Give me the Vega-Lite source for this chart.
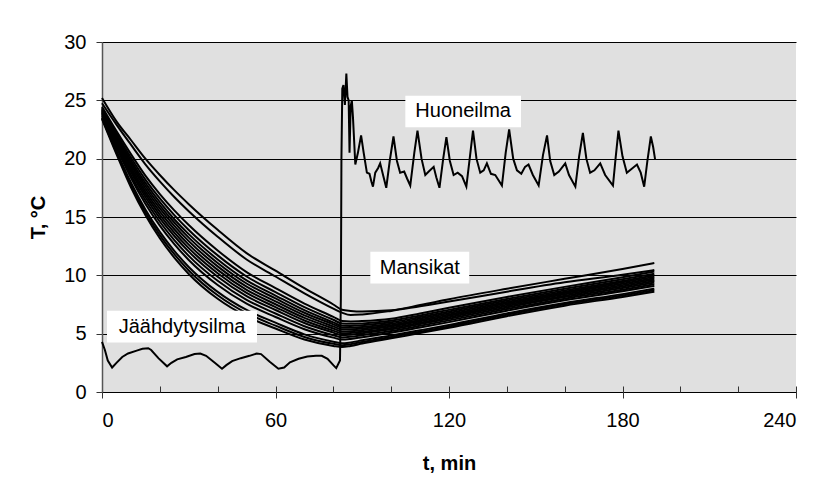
{
"$schema": "https://vega.github.io/schema/vega-lite/v6.json",
"width": 694, "height": 350,
"autosize": "none",
"padding": {"left": 102, "top": 42, "right": 23, "bottom": 96},
"background": "white",
"config": {"font": "Liberation Sans", "view": {"fill": "#e0e0e0", "stroke": null}},
"datasets": {
"straw": [
{"c":1,"t":0,"T":23.4},{"c":1,"t":5,"T":20.4},{"c":1,"t":10,"T":17.55},{"c":1,"t":15,"T":15.17},{"c":1,"t":20,"T":13.18},{"c":1,"t":25,"T":11.52},{"c":1,"t":30,"T":10.12},{"c":1,"t":40,"T":7.99},{"c":1,"t":50,"T":6.49},{"c":1,"t":60,"T":5.44},{"c":1,"t":70,"T":4.5},{"c":1,"t":80,"T":3.95},{"c":1,"t":83,"T":3.85},{"c":1,"t":86,"T":3.95},{"c":1,"t":90,"T":4.15},{"c":1,"t":100,"T":4.6},{"c":1,"t":110,"T":5.05},{"c":1,"t":120,"T":5.5},{"c":1,"t":140,"T":6.5},{"c":1,"t":160,"T":7.4},{"c":1,"t":180,"T":8.15},{"c":1,"t":191,"T":8.6},
{"c":2,"t":0,"T":23.48},{"c":2,"t":5,"T":20.54},{"c":2,"t":10,"T":17.75},{"c":2,"t":15,"T":15.41},{"c":2,"t":20,"T":13.45},{"c":2,"t":25,"T":11.81},{"c":2,"t":30,"T":10.42},{"c":2,"t":40,"T":8.29},{"c":2,"t":50,"T":6.76},{"c":2,"t":60,"T":5.69},{"c":2,"t":70,"T":4.72},{"c":2,"t":80,"T":4.13},{"c":2,"t":83,"T":4.01},{"c":2,"t":86,"T":4.1},{"c":2,"t":90,"T":4.29},{"c":2,"t":100,"T":4.72},{"c":2,"t":110,"T":5.17},{"c":2,"t":120,"T":5.62},{"c":2,"t":140,"T":6.62},{"c":2,"t":160,"T":7.52},{"c":2,"t":180,"T":8.27},{"c":2,"t":191,"T":8.72},
{"c":3,"t":0,"T":23.55},{"c":3,"t":5,"T":20.68},{"c":3,"t":10,"T":17.96},{"c":3,"t":15,"T":15.65},{"c":3,"t":20,"T":13.72},{"c":3,"t":25,"T":12.1},{"c":3,"t":30,"T":10.72},{"c":3,"t":40,"T":8.58},{"c":3,"t":50,"T":7.03},{"c":3,"t":60,"T":5.94},{"c":3,"t":70,"T":4.94},{"c":3,"t":80,"T":4.31},{"c":3,"t":83,"T":4.17},{"c":3,"t":86,"T":4.25},{"c":3,"t":90,"T":4.43},{"c":3,"t":100,"T":4.84},{"c":3,"t":110,"T":5.29},{"c":3,"t":120,"T":5.75},{"c":3,"t":140,"T":6.74},{"c":3,"t":160,"T":7.63},{"c":3,"t":180,"T":8.39},{"c":3,"t":191,"T":8.85},
{"c":4,"t":0,"T":23.7},{"c":4,"t":5,"T":20.96},{"c":4,"t":10,"T":18.36},{"c":4,"t":15,"T":16.14},{"c":4,"t":20,"T":14.26},{"c":4,"t":25,"T":12.68},{"c":4,"t":30,"T":11.32},{"c":4,"t":40,"T":9.17},{"c":4,"t":50,"T":7.57},{"c":4,"t":60,"T":6.43},{"c":4,"t":70,"T":5.38},{"c":4,"t":80,"T":4.66},{"c":4,"t":83,"T":4.49},{"c":4,"t":86,"T":4.55},{"c":4,"t":90,"T":4.7},{"c":4,"t":100,"T":5.08},{"c":4,"t":110,"T":5.53},{"c":4,"t":120,"T":5.99},{"c":4,"t":140,"T":6.97},{"c":4,"t":160,"T":7.86},{"c":4,"t":180,"T":8.63},{"c":4,"t":191,"T":9.09},
{"c":5,"t":0,"T":23.79},{"c":5,"t":5,"T":21.13},{"c":5,"t":10,"T":18.6},{"c":5,"t":15,"T":16.43},{"c":5,"t":20,"T":14.59},{"c":5,"t":25,"T":13.02},{"c":5,"t":30,"T":11.67},{"c":5,"t":40,"T":9.53},{"c":5,"t":50,"T":7.9},{"c":5,"t":60,"T":6.73},{"c":5,"t":70,"T":5.64},{"c":5,"t":80,"T":4.87},{"c":5,"t":83,"T":4.68},{"c":5,"t":86,"T":4.73},{"c":5,"t":90,"T":4.87},{"c":5,"t":100,"T":5.22},{"c":5,"t":110,"T":5.67},{"c":5,"t":120,"T":6.14},{"c":5,"t":140,"T":7.11},{"c":5,"t":160,"T":8.0},{"c":5,"t":180,"T":8.77},{"c":5,"t":191,"T":9.24},
{"c":6,"t":0,"T":23.88},{"c":6,"t":5,"T":21.3},{"c":6,"t":10,"T":18.85},{"c":6,"t":15,"T":16.72},{"c":6,"t":20,"T":14.91},{"c":6,"t":25,"T":13.37},{"c":6,"t":30,"T":12.03},{"c":6,"t":40,"T":9.88},{"c":6,"t":50,"T":8.22},{"c":6,"t":60,"T":7.03},{"c":6,"t":70,"T":5.91},{"c":6,"t":80,"T":5.09},{"c":6,"t":83,"T":4.87},{"c":6,"t":86,"T":4.91},{"c":6,"t":90,"T":5.03},{"c":6,"t":100,"T":5.37},{"c":6,"t":110,"T":5.82},{"c":6,"t":120,"T":6.28},{"c":6,"t":140,"T":7.25},{"c":6,"t":160,"T":8.14},{"c":6,"t":180,"T":8.92},{"c":6,"t":191,"T":9.38},
{"c":7,"t":0,"T":23.96},{"c":7,"t":5,"T":21.44},{"c":7,"t":10,"T":19.05},{"c":7,"t":15,"T":16.96},{"c":7,"t":20,"T":15.19},{"c":7,"t":25,"T":13.66},{"c":7,"t":30,"T":12.33},{"c":7,"t":40,"T":10.18},{"c":7,"t":50,"T":8.49},{"c":7,"t":60,"T":7.28},{"c":7,"t":70,"T":6.13},{"c":7,"t":80,"T":5.26},{"c":7,"t":83,"T":5.03},{"c":7,"t":86,"T":5.06},{"c":7,"t":90,"T":5.17},{"c":7,"t":100,"T":5.49},{"c":7,"t":110,"T":5.94},{"c":7,"t":120,"T":6.41},{"c":7,"t":140,"T":7.37},{"c":7,"t":160,"T":8.25},{"c":7,"t":180,"T":9.04},{"c":7,"t":191,"T":9.51},
{"c":8,"t":0,"T":24.03},{"c":8,"t":5,"T":21.58},{"c":8,"t":10,"T":19.25},{"c":8,"t":15,"T":17.2},{"c":8,"t":20,"T":15.46},{"c":8,"t":25,"T":13.95},{"c":8,"t":30,"T":12.63},{"c":8,"t":40,"T":10.47},{"c":8,"t":50,"T":8.76},{"c":8,"t":60,"T":7.52},{"c":8,"t":70,"T":6.35},{"c":8,"t":80,"T":5.44},{"c":8,"t":83,"T":5.19},{"c":8,"t":86,"T":5.21},{"c":8,"t":90,"T":5.31},{"c":8,"t":100,"T":5.61},{"c":8,"t":110,"T":6.06},{"c":8,"t":120,"T":6.53},{"c":8,"t":140,"T":7.49},{"c":8,"t":160,"T":8.37},{"c":8,"t":180,"T":9.16},{"c":8,"t":191,"T":9.63},
{"c":9,"t":0,"T":24.11},{"c":9,"t":5,"T":21.72},{"c":9,"t":10,"T":19.45},{"c":9,"t":15,"T":17.44},{"c":9,"t":20,"T":15.73},{"c":9,"t":25,"T":14.24},{"c":9,"t":30,"T":12.93},{"c":9,"t":40,"T":10.77},{"c":9,"t":50,"T":9.03},{"c":9,"t":60,"T":7.77},{"c":9,"t":70,"T":6.57},{"c":9,"t":80,"T":5.62},{"c":9,"t":83,"T":5.35},{"c":9,"t":86,"T":5.36},{"c":9,"t":90,"T":5.44},{"c":9,"t":100,"T":5.73},{"c":9,"t":110,"T":6.18},{"c":9,"t":120,"T":6.65},{"c":9,"t":140,"T":7.6},{"c":9,"t":160,"T":8.48},{"c":9,"t":180,"T":9.28},{"c":9,"t":191,"T":9.75},
{"c":10,"t":0,"T":24.18},{"c":10,"t":5,"T":21.86},{"c":10,"t":10,"T":19.66},{"c":10,"t":15,"T":17.68},{"c":10,"t":20,"T":16.0},{"c":10,"t":25,"T":14.53},{"c":10,"t":30,"T":13.23},{"c":10,"t":40,"T":11.06},{"c":10,"t":50,"T":9.3},{"c":10,"t":60,"T":8.02},{"c":10,"t":70,"T":6.79},{"c":10,"t":80,"T":5.8},{"c":10,"t":83,"T":5.51},{"c":10,"t":86,"T":5.51},{"c":10,"t":90,"T":5.58},{"c":10,"t":100,"T":5.85},{"c":10,"t":110,"T":6.3},{"c":10,"t":120,"T":6.77},{"c":10,"t":140,"T":7.72},{"c":10,"t":160,"T":8.6},{"c":10,"t":180,"T":9.4},{"c":10,"t":191,"T":9.87},
{"c":11,"t":0,"T":24.26},{"c":11,"t":5,"T":22.0},{"c":11,"t":10,"T":19.86},{"c":11,"t":15,"T":17.92},{"c":11,"t":20,"T":16.27},{"c":11,"t":25,"T":14.81},{"c":11,"t":30,"T":13.53},{"c":11,"t":40,"T":11.36},{"c":11,"t":50,"T":9.57},{"c":11,"t":60,"T":8.27},{"c":11,"t":70,"T":7.01},{"c":11,"t":80,"T":5.97},{"c":11,"t":83,"T":5.67},{"c":11,"t":86,"T":5.66},{"c":11,"t":90,"T":5.72},{"c":11,"t":100,"T":5.97},{"c":11,"t":110,"T":6.42},{"c":11,"t":120,"T":6.9},{"c":11,"t":140,"T":7.84},{"c":11,"t":160,"T":8.71},{"c":11,"t":180,"T":9.52},{"c":11,"t":191,"T":10.0},
{"c":12,"t":0,"T":24.35},{"c":12,"t":5,"T":22.16},{"c":12,"t":10,"T":20.1},{"c":12,"t":15,"T":18.21},{"c":12,"t":20,"T":16.59},{"c":12,"t":25,"T":15.16},{"c":12,"t":30,"T":13.89},{"c":12,"t":40,"T":11.71},{"c":12,"t":50,"T":9.9},{"c":12,"t":60,"T":8.56},{"c":12,"t":70,"T":7.27},{"c":12,"t":80,"T":6.19},{"c":12,"t":83,"T":5.87},{"c":12,"t":86,"T":5.84},{"c":12,"t":90,"T":5.88},{"c":12,"t":100,"T":6.11},{"c":12,"t":110,"T":6.56},{"c":12,"t":120,"T":7.04},{"c":12,"t":140,"T":7.98},{"c":12,"t":160,"T":8.85},{"c":12,"t":180,"T":9.66},{"c":12,"t":191,"T":10.14},
{"c":13,"t":0,"T":24.45},{"c":13,"t":5,"T":22.36},{"c":13,"t":10,"T":20.39},{"c":13,"t":15,"T":18.55},{"c":13,"t":20,"T":16.97},{"c":13,"t":25,"T":15.57},{"c":13,"t":30,"T":14.31},{"c":13,"t":40,"T":12.13},{"c":13,"t":50,"T":10.28},{"c":13,"t":60,"T":8.91},{"c":13,"t":70,"T":7.58},{"c":13,"t":80,"T":6.44},{"c":13,"t":83,"T":6.09},{"c":13,"t":86,"T":6.05},{"c":13,"t":90,"T":6.08},{"c":13,"t":100,"T":6.28},{"c":13,"t":110,"T":6.73},{"c":13,"t":120,"T":7.22},{"c":13,"t":140,"T":8.15},{"c":13,"t":160,"T":9.01},{"c":13,"t":180,"T":9.83},{"c":13,"t":191,"T":10.32},
{"c":14,"t":0,"T":24.75},{"c":14,"t":5,"T":22.92},{"c":14,"t":10,"T":21.2},{"c":14,"t":15,"T":19.52},{"c":14,"t":20,"T":18.06},{"c":14,"t":25,"T":16.72},{"c":14,"t":30,"T":15.5},{"c":14,"t":40,"T":13.31},{"c":14,"t":50,"T":11.36},{"c":14,"t":60,"T":9.9},{"c":14,"t":70,"T":8.46},{"c":14,"t":80,"T":7.15},{"c":14,"t":83,"T":6.8},{"c":14,"t":86,"T":6.6},{"c":14,"t":90,"T":6.65},{"c":14,"t":100,"T":6.95},{"c":14,"t":110,"T":7.35},{"c":14,"t":120,"T":7.75},{"c":14,"t":140,"T":8.6},{"c":14,"t":160,"T":9.4},{"c":14,"t":180,"T":10.05},{"c":14,"t":191,"T":10.45},
{"c":15,"t":0,"T":25.2},{"c":15,"t":5,"T":23.2},{"c":15,"t":10,"T":21.6},{"c":15,"t":15,"T":20.0},{"c":15,"t":20,"T":18.6},{"c":15,"t":25,"T":17.3},{"c":15,"t":30,"T":16.1},{"c":15,"t":40,"T":13.9},{"c":15,"t":50,"T":11.9},{"c":15,"t":60,"T":10.4},{"c":15,"t":70,"T":8.9},{"c":15,"t":80,"T":7.5},{"c":15,"t":83,"T":7.05},{"c":15,"t":86,"T":6.95},{"c":15,"t":90,"T":6.9},{"c":15,"t":100,"T":7.0},{"c":15,"t":110,"T":7.45},{"c":15,"t":120,"T":7.95},{"c":15,"t":140,"T":8.85},{"c":15,"t":160,"T":9.7},{"c":15,"t":180,"T":10.55},{"c":15,"t":191,"T":11.05}
],
"air": [
{"t":0,"T":4.3},{"t":1,"T":3.6},{"t":2,"T":2.7},{"t":3.5,"T":2.1},{"t":5,"T":2.5},{"t":7,"T":3.0},{"t":9,"T":3.3},{"t":12,"T":3.55},{"t":14,"T":3.7},{"t":16,"T":3.75},{"t":17,"T":3.6},{"t":19.5,"T":2.9},{"t":22.5,"T":2.2},{"t":24,"T":2.5},{"t":26,"T":2.8},{"t":29,"T":3.0},{"t":32,"T":3.25},{"t":34,"T":3.3},{"t":36,"T":3.1},{"t":39,"T":2.5},{"t":41.5,"T":2.0},{"t":43,"T":2.3},{"t":45,"T":2.65},{"t":48,"T":2.9},{"t":51,"T":3.1},{"t":53.5,"T":3.3},{"t":55,"T":3.25},{"t":58,"T":2.6},{"t":61,"T":2.0},{"t":63,"T":2.1},{"t":65,"T":2.55},{"t":68,"T":2.85},{"t":71,"T":3.05},{"t":74,"T":3.1},{"t":76,"T":3.1},{"t":78,"T":2.85},{"t":80,"T":2.3},{"t":81,"T":2.05},{"t":82.3,"T":2.7},{"t":82.6,"T":8},{"t":82.8,"T":20},{"t":83.1,"T":26.0},{"t":83.5,"T":26.3},{"t":84,"T":24.6},{"t":84.5,"T":27.3},{"t":84.9,"T":25.3},{"t":85.3,"T":25.0},{"t":85.6,"T":20.5},{"t":86,"T":24.5},{"t":86.4,"T":25.0},{"t":86.8,"T":23.5},{"t":87.6,"T":19.5},{"t":88.5,"T":20.5},{"t":89.6,"T":22.0},{"t":90.5,"T":20.5},{"t":91.6,"T":18.8},{"t":92.5,"T":18.7},{"t":93.2,"T":18.0},{"t":93.7,"T":17.6},{"t":94.5,"T":18.8},{"t":95.5,"T":19.2},{"t":96.2,"T":19.6},{"t":97.3,"T":18.5},{"t":98.3,"T":17.5},{"t":99.5,"T":19.8},{"t":100.8,"T":21.9},{"t":102,"T":19.8},{"t":103.1,"T":18.8},{"t":104.5,"T":18.9},{"t":105.5,"T":18.3},{"t":106.6,"T":17.7},{"t":108,"T":20.5},{"t":109.1,"T":22.4},{"t":110.5,"T":20.0},{"t":111.8,"T":18.6},{"t":113,"T":18.9},{"t":114.7,"T":19.3},{"t":115.6,"T":18.4},{"t":116.7,"T":17.5},{"t":118,"T":20.0},{"t":119.1,"T":21.85},{"t":120.3,"T":19.8},{"t":121.6,"T":18.6},{"t":123,"T":18.8},{"t":124.5,"T":18.5},{"t":126,"T":17.6},{"t":127.3,"T":20.3},{"t":128.3,"T":22.4},{"t":129.5,"T":20.0},{"t":130.8,"T":18.8},{"t":132,"T":19.0},{"t":133.1,"T":19.6},{"t":134.5,"T":18.7},{"t":136,"T":18.6},{"t":138.3,"T":17.7},{"t":139.6,"T":20.5},{"t":140.8,"T":22.5},{"t":142.2,"T":20.0},{"t":143.5,"T":19.0},{"t":145,"T":18.7},{"t":146.3,"T":19.3},{"t":147.5,"T":19.5},{"t":149,"T":18.6},{"t":151,"T":17.7},{"t":152.5,"T":20.3},{"t":153.9,"T":22.0},{"t":155,"T":19.8},{"t":156.4,"T":18.6},{"t":158,"T":18.9},{"t":160.2,"T":19.6},{"t":161.5,"T":18.6},{"t":163.7,"T":17.6},{"t":165,"T":20.2},{"t":166.3,"T":22.2},{"t":167.5,"T":20.0},{"t":168.8,"T":18.8},{"t":170.3,"T":19.0},{"t":172.3,"T":19.6},{"t":174,"T":18.6},{"t":176.7,"T":17.7},{"t":177.6,"T":20.0},{"t":178.6,"T":22.4},{"t":180,"T":20.2},{"t":181.5,"T":18.8},{"t":183,"T":19.1},{"t":185,"T":19.5},{"t":186.3,"T":18.8},{"t":187.5,"T":17.6},{"t":188.6,"T":19.8},{"t":189.8,"T":21.9},{"t":190.6,"T":21.0},{"t":191.3,"T":19.9}
],
"labels": [
{"label":"Huoneilma","t1":104.9,"t2":144.9,"T1":22.7,"T2":25.4,"tc":124.9,"Tc":24.05},
{"label":"Mansikat","t1":92.8,"t2":127.0,"T1":9.31,"T2":12.03,"tc":109.9,"Tc":10.67},
{"label":"Jäähdytysilma","t1":1.73,"t2":53.6,"T1":4.25,"T2":6.97,"tc":27.7,"Tc":5.61}
]
},
"layer": [
{"data": {"name": "straw"},
 "mark": {"type": "line", "color": "black", "strokeWidth": 2, "interpolate": "monotone"},
 "encoding": {
  "x": {"field": "t", "type": "quantitative", "title": "t, min", "scale": {"domain": [0, 240], "nice": false},
        "axis": {"orient": "bottom", "offset": -6, "domain": false, "values": [0,10,20,30,40,50,60,70,80,90,100,110,120,130,140,150,160,170,180,190,200,210,220,230,240], "labelExpr": "datum.value % 60 === 0 ? datum.label : ''", "grid": false, "tickSize": {"condition": {"test": "datum.value % 60 === 0", "value": 12}, "value": 6}, "tickColor": "#333", "labelFontSize": 20, "labelPadding": 12, "labelColor": "black", "titleFontSize": 20, "titleFontWeight": "bold", "titleColor": "black", "titleX": 347, "titleY": 77, "titleBaseline": "middle"}},
  "y": {"field": "T", "type": "quantitative", "title": "T, °C", "scale": {"domain": [0, 30], "nice": false},
        "axis": {"values": [0, 5, 10, 15, 20, 25, 30], "grid": true, "gridColor": "black", "gridWidth": 1, "gridOpacity": 1, "tickSize": 6, "tickColor": "#333", "domainColor": "#555", "domainWidth": 1.5, "labelFontSize": 20, "labelPadding": 10, "labelColor": "black", "titleFontSize": 20, "titleFontWeight": "bold", "titleColor": "black", "titleX": -64, "titleY": 175, "titleBaseline": "middle"}},
  "detail": {"field": "c", "type": "nominal"}
 }},
{"data": {"name": "air"},
 "mark": {"type": "line", "color": "black", "strokeWidth": 2},
 "encoding": {
  "x": {"field": "t", "type": "quantitative", "title": "t, min"},
  "y": {"field": "T", "type": "quantitative", "title": "T, °C"}
 }},
{"data": {"name": "labels"},
 "mark": {"type": "rect", "fill": "white"},
 "encoding": {
  "x": {"field": "t1", "type": "quantitative", "title": "t, min"}, "x2": {"field": "t2"},
  "y": {"field": "T1", "type": "quantitative", "title": "T, °C"}, "y2": {"field": "T2"}
 }},
{"data": {"name": "labels"},
 "mark": {"type": "text", "fontSize": 20, "color": "black", "align": "center", "baseline": "middle"},
 "encoding": {
  "x": {"field": "tc", "type": "quantitative", "title": "t, min"},
  "y": {"field": "Tc", "type": "quantitative", "title": "T, °C"},
  "text": {"field": "label"}
 }}
]
}
